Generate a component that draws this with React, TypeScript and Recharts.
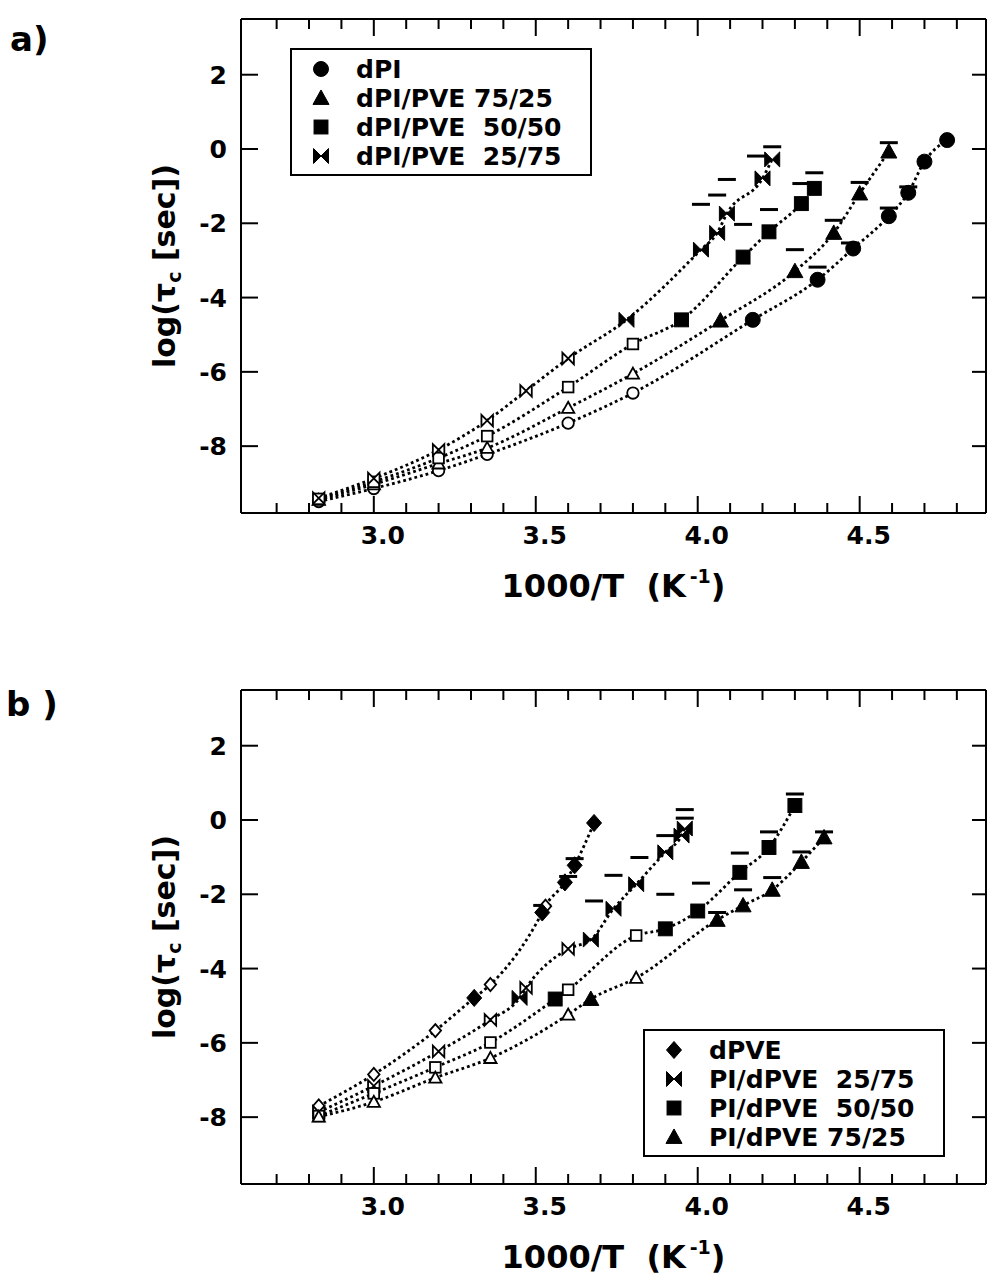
import React from 'react';
import { ComposedChart, Line, Scatter, XAxis, YAxis, Legend } from 'recharts';

type Pt = [number, number];

// axes
const xDomain = [2.59, 4.89];
const yDomain = [-9.8, 3.5];
const xTicks = [2.7, 2.8, 2.9, 3.0, 3.1, 3.2, 3.3, 3.4, 3.5, 3.6, 3.7, 3.8, 3.9, 4.0, 4.1, 4.2, 4.3, 4.4, 4.5, 4.6, 4.7, 4.8];
const xLabelTicks = [3.0, 3.5, 4.0, 4.5];
const yTicks = [-8, -6, -4, -2, 0, 2];

// panel a) open symbols (low T side), filled symbols, and the short bars above them
const dPI_open: Pt[] = [[2.83, -9.49], [3.0, -9.14], [3.2, -8.66], [3.35, -8.22], [3.6, -7.38], [3.8, -6.57]];
const dPI_filled: Pt[] = [[4.17, -4.6], [4.37, -3.52], [4.48, -2.68], [4.59, -1.81], [4.65, -1.18], [4.7, -0.34], [4.77, 0.24]];
const dPI_bars: Pt[] = [[4.37, -3.18], [4.47, -2.53], [4.59, -1.59], [4.65, -1.02]];

const dPI75_open: Pt[] = [[2.83, -9.45], [3.0, -9.03], [3.2, -8.47], [3.35, -8.05], [3.6, -6.97], [3.8, -6.05]];
const dPI75_filled: Pt[] = [[4.07, -4.62], [4.3, -3.29], [4.42, -2.26], [4.5, -1.2], [4.59, -0.07]];
const dPI75_bars: Pt[] = [[4.3, -2.71], [4.42, -1.92], [4.5, -0.9], [4.59, 0.17]];

const dPI50_open: Pt[] = [[2.83, -9.42], [3.0, -8.96], [3.2, -8.32], [3.35, -7.73], [3.6, -6.41], [3.8, -5.25]];
const dPI50_filled: Pt[] = [[3.95, -4.6], [4.14, -2.91], [4.22, -2.23], [4.32, -1.47], [4.36, -1.06]];
const dPI50_bars: Pt[] = [[4.14, -2.03], [4.22, -1.63], [4.32, -0.93], [4.36, -0.64]];

const dPI25_open: Pt[] = [[2.83, -9.4], [3.0, -8.87], [3.2, -8.1], [3.35, -7.31], [3.47, -6.51], [3.6, -5.64]];
const dPI25_filled: Pt[] = [[3.78, -4.6], [4.01, -2.71], [4.06, -2.26], [4.09, -1.74], [4.2, -0.79], [4.23, -0.28]];
const dPI25_bars: Pt[] = [[4.01, -1.49], [4.06, -1.24], [4.09, -0.82], [4.18, -0.19], [4.23, 0.06]];

// panel b)
const dPVE_open: Pt[] = [[2.83, -7.7], [3.0, -6.85], [3.19, -5.67], [3.36, -4.43], [3.53, -2.32]];
const dPVE_filled: Pt[] = [[3.31, -4.79], [3.52, -2.49], [3.59, -1.68], [3.62, -1.22], [3.68, -0.08]];
const dPVE_bars: Pt[] = [[3.52, -2.3], [3.6, -1.52], [3.62, -1.04]];

const PI25_open: Pt[] = [[2.83, -7.86], [3.0, -7.16], [3.2, -6.23], [3.36, -5.38], [3.47, -4.52], [3.6, -3.47]];
const PI25_filled: Pt[] = [[3.45, -4.79], [3.67, -3.22], [3.74, -2.39], [3.81, -1.73], [3.9, -0.87], [3.95, -0.42], [3.96, -0.23]];
const PI25_bars: Pt[] = [[3.68, -2.18], [3.74, -1.49], [3.82, -1.01], [3.9, -0.42], [3.96, 0.05], [3.96, 0.28]];

const PI50_open: Pt[] = [[2.83, -7.97], [3.0, -7.36], [3.19, -6.66], [3.36, -5.99], [3.6, -4.57], [3.81, -3.11]];
const PI50_filled: Pt[] = [[3.56, -4.82], [3.9, -2.93], [4.0, -2.45], [4.13, -1.41], [4.22, -0.74], [4.3, 0.39]];
const PI50_bars: Pt[] = [[3.9, -2.0], [4.01, -1.7], [4.13, -0.89], [4.22, -0.32], [4.3, 0.7]];

const PI75_open: Pt[] = [[2.83, -7.99], [3.0, -7.59], [3.19, -6.94], [3.36, -6.41], [3.6, -5.24], [3.81, -4.25]];
const PI75_filled: Pt[] = [[3.67, -4.82], [4.06, -2.69], [4.14, -2.3], [4.23, -1.88], [4.32, -1.13], [4.39, -0.47]];
const PI75_bars: Pt[] = [[4.06, -2.49], [4.14, -1.88], [4.23, -1.55], [4.32, -0.86], [4.39, -0.32]];

type Kind = 'circle' | 'triangle' | 'square' | 'bowtie' | 'diamond';
type Series = { name: string; kind: Kind; open: Pt[]; filled: Pt[]; bars: Pt[] };

const seriesA: Series[] = [
  { name: 'dPI', kind: 'circle', open: dPI_open, filled: dPI_filled, bars: dPI_bars },
  { name: 'dPI/PVE 75/25', kind: 'triangle', open: dPI75_open, filled: dPI75_filled, bars: dPI75_bars },
  { name: 'dPI/PVE  50/50', kind: 'square', open: dPI50_open, filled: dPI50_filled, bars: dPI50_bars },
  { name: 'dPI/PVE  25/75', kind: 'bowtie', open: dPI25_open, filled: dPI25_filled, bars: dPI25_bars },
];

const seriesB: Series[] = [
  { name: 'dPVE', kind: 'diamond', open: dPVE_open, filled: dPVE_filled, bars: dPVE_bars },
  { name: 'PI/dPVE  25/75', kind: 'bowtie', open: PI25_open, filled: PI25_filled, bars: PI25_bars },
  { name: 'PI/dPVE  50/50', kind: 'square', open: PI50_open, filled: PI50_filled, bars: PI50_bars },
  { name: 'PI/dPVE 75/25', kind: 'triangle', open: PI75_open, filled: PI75_filled, bars: PI75_bars },
];

const FONT = '"DejaVu Sans", Verdana, sans-serif';

const toRows = (pts: Pt[]) => pts.map(([x, y]) => ({ x, y }));

function Marker({ kind, filled, cx, cy }: { kind: Kind; filled: boolean; cx: number; cy: number }) {
  const s = filled ? 1.07 : 0.82;
  const props = { fill: filled ? '#000' : '#fff', stroke: '#000', strokeWidth: filled ? 1 : 1.8 };
  switch (kind) {
    case 'circle':
      return <circle cx={cx} cy={cy} r={7 * s} {...props} />;
    case 'triangle':
      return <path d={`M${cx},${cy - 7.5 * s} L${cx + 7.5 * s},${cy + 6 * s} L${cx - 7.5 * s},${cy + 6 * s} Z`} {...props} />;
    case 'square':
      return <rect x={cx - 6.5 * s} y={cy - 6.5 * s} width={13 * s} height={13 * s} {...props} />;
    case 'diamond':
      return <path d={`M${cx},${cy - 8 * s} L${cx + 7 * s},${cy} L${cx},${cy + 8 * s} L${cx - 7 * s},${cy} Z`} {...props} />;
    default:
      return (
        <path
          d={`M${cx - 7 * s},${cy - 7 * s} L${cx},${cy} L${cx - 7 * s},${cy + 7 * s} Z M${cx + 7 * s},${cy - 7 * s} L${cx},${cy} L${cx + 7 * s},${cy + 7 * s} Z`}
          {...props}
        />
      );
  }
}

const isMajor = (v: number) => xLabelTicks.some((t) => Math.abs(t - v) < 1e-6);

const BottomTick = (p: any) => {
  const v = p.payload.value;
  const major = isMajor(v);
  return (
    <g>
      <line x1={p.x} x2={p.x} y1={p.y} y2={p.y - (major ? 17 : 10)} stroke="#000" strokeWidth={2} />
      {major && (
        <text x={p.x + 9} y={p.y + 31} textAnchor="middle" fontFamily={FONT} fontWeight={700} fontSize={25} fill="#000">
          {v.toFixed(1)}
        </text>
      )}
    </g>
  );
};

const TopTick = (p: any) => {
  const major = isMajor(p.payload.value);
  return <line x1={p.x} x2={p.x} y1={p.y} y2={p.y + (major ? 17 : 10)} stroke="#000" strokeWidth={2} />;
};

const LeftTick = (p: any) => {
  const v = p.payload.value;
  return (
    <g>
      <line x1={p.x} x2={p.x + 17} y1={p.y} y2={p.y} stroke="#000" strokeWidth={2} />
      <text x={p.x - 14} y={p.y + 9} textAnchor="end" fontFamily={FONT} fontWeight={700} fontSize={25} fill="#000">
        {v < 0 ? `-${Math.abs(v)}` : `${v}`}
      </text>
    </g>
  );
};

const RightTick = (p: any) => (
  <line x1={p.x} x2={p.x - 14} y1={p.y} y2={p.y} stroke="#000" strokeWidth={2} />
);

const XTitle = (p: any) => {
  const vb = p.viewBox;
  return (
    <text x={vb.x + vb.width / 2} y={vb.y + 84} textAnchor="middle" fontFamily={FONT} fontWeight={700} fontSize={32} fill="#000">
      1000/T{'\u00a0\u00a0'}(K
      <tspan fontSize={19} dy={-14}>{'\u2009'}-1</tspan>
      <tspan dy={14}>)</tspan>
    </text>
  );
};

const YTitle = (p: any) => {
  const vb = p.viewBox;
  const x = vb.x - 6;
  const y = vb.y + vb.height / 2;
  return (
    <text x={x} y={y} transform={`rotate(-90, ${x}, ${y})`} textAnchor="middle" fontFamily={FONT} fontWeight={700} fontSize={30} fill="#000">
      log(τ
      <tspan fontSize={19} dy={6}>c</tspan>
      <tspan dy={-6}> [sec])</tspan>
    </text>
  );
};

function LegendBox({ series }: { series: Series[] }) {
  const rowsY = [21, 50, 79, 108];
  return (
    <svg width={302} height={128} style={{ display: 'block' }}>
      <rect x={1} y={1} width={300} height={126} fill="#fff" stroke="#000" strokeWidth={2} />
      {series.map((s, i) => (
        <g key={s.name}>
          <Marker kind={s.kind} filled cx={31} cy={rowsY[i]} />
          <text x={66} y={rowsY[i] + 9} fontFamily={FONT} fontWeight={700} fontSize={25} fill="#000" style={{ whiteSpace: 'pre' }}>
            {s.name}
          </text>
        </g>
      ))}
    </svg>
  );
}

function Panel({ series, height, legendLeft, legendTop }: { series: Series[]; height: number; legendLeft: number; legendTop: number }) {
  return (
    <ComposedChart width={988} height={height} margin={{ top: 18, right: 1, left: 181, bottom: 0 }}>
      <XAxis
        xAxisId="b"
        dataKey="x"
        type="number"
        domain={xDomain}
        allowDataOverflow
        ticks={xTicks}
        interval={0}
        tickSize={0}
        tickMargin={0}
        tickLine={false}
        tick={BottomTick}
        height={height - 19 - 494}
        axisLine={{ stroke: '#000', strokeWidth: 2 }}
        label={XTitle}
      />
      <XAxis
        xAxisId="t"
        orientation="top"
        dataKey="x"
        type="number"
        domain={xDomain}
        allowDataOverflow
        ticks={xTicks}
        interval={0}
        tickSize={0}
        tickMargin={0}
        tickLine={false}
        tick={TopTick}
        height={1}
        axisLine={{ stroke: '#000', strokeWidth: 2 }}
      />
      <YAxis
        yAxisId="l"
        dataKey="y"
        type="number"
        domain={yDomain}
        allowDataOverflow
        ticks={yTicks}
        interval={0}
        tickSize={0}
        tickMargin={0}
        tickLine={false}
        tick={LeftTick}
        width={60}
        axisLine={{ stroke: '#000', strokeWidth: 2 }}
        label={YTitle}
      />
      <YAxis
        yAxisId="r"
        orientation="right"
        dataKey="y"
        type="number"
        domain={yDomain}
        allowDataOverflow
        ticks={yTicks}
        interval={0}
        tickSize={0}
        tickMargin={0}
        tickLine={false}
        tick={RightTick}
        width={1}
        axisLine={{ stroke: '#000', strokeWidth: 2 }}
      />
      {series.map((s) => (
        <Line
          key={`fit-${s.name}`}
          xAxisId="b"
          yAxisId="l"
          data={toRows([...s.open, ...s.filled].sort((a, b) => a[0] - b[0]))}
          dataKey="y"
          type="monotone"
          dot={false}
          activeDot={false}
          stroke="#000"
          strokeWidth={2.8}
          strokeDasharray="2.8 3"
          isAnimationActive={false}
        />
      ))}
      {/* bars go on the top/right axes (same domains) so those frame sides get drawn */}
      {series.map((s) => (
        <Scatter
          key={`bar-${s.name}`}
          xAxisId="t"
          yAxisId="r"
          data={toRows(s.bars)}
          isAnimationActive={false}
          shape={(p: any) => <line x1={p.cx - 9} x2={p.cx + 9} y1={p.cy} y2={p.cy} stroke="#000" strokeWidth={3} />}
        />
      ))}
      {series.map((s) => (
        <Scatter
          key={`open-${s.name}`}
          xAxisId="b"
          yAxisId="l"
          data={toRows(s.open)}
          isAnimationActive={false}
          shape={(p: any) => <Marker kind={s.kind} filled={false} cx={p.cx} cy={p.cy} />}
        />
      ))}
      {series.map((s) => (
        <Scatter
          key={`filled-${s.name}`}
          xAxisId="b"
          yAxisId="l"
          data={toRows(s.filled)}
          isAnimationActive={false}
          shape={(p: any) => <Marker kind={s.kind} filled cx={p.cx} cy={p.cy} />}
        />
      ))}
      <Legend
        layout="vertical"
        align="center"
        verticalAlign="middle"
        wrapperStyle={{ left: legendLeft, top: legendTop, width: 302, height: 128 }}
        content={() => <LegendBox series={series} />}
      />
    </ComposedChart>
  );
}

const letterStyle: React.CSSProperties = {
  position: 'absolute',
  fontFamily: FONT,
  fontWeight: 700,
  fontSize: 34,
  lineHeight: '34px',
  whiteSpace: 'pre',
  color: '#000',
};

export default function App() {
  return (
    <div style={{ position: 'absolute', left: 0, top: 0, width: 988, height: 1278, background: '#fff', overflow: 'hidden' }}>
      <div style={{ ...letterStyle, left: 10, top: 22 }}>a)</div>
      <div style={{ ...letterStyle, left: 6, top: 687 }}>b )</div>
      <div style={{ position: 'absolute', left: 0, top: 0 }}>
        <Panel series={seriesA} height={620} legendLeft={290} legendTop={48} />
      </div>
      <div style={{ position: 'absolute', left: 0, top: 671 }}>
        <Panel series={seriesB} height={607} legendLeft={643} legendTop={358} />
      </div>
    </div>
  );
}
